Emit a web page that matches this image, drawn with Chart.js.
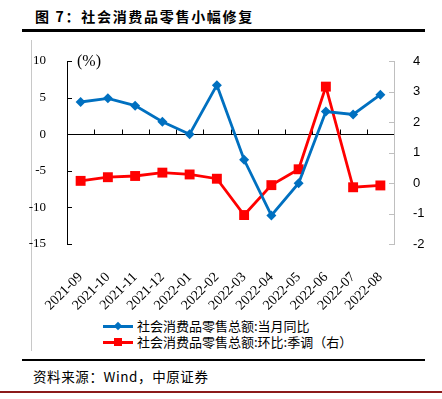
<!DOCTYPE html>
<html>
<head>
<meta charset="utf-8">
<script src="https://cdn.jsdelivr.net/npm/chart.js@4.4.0/dist/chart.umd.min.js"></script>
<style>
  body { margin: 0; background: #fff; }
  #wrap { position: relative; width: 442px; height: 399px; overflow: hidden; background: #fff; }
  #title { position: absolute; left: 35px; top: 6px; font: bold 14px "Noto Sans CJK SC", sans-serif; letter-spacing: 1.7px; color: #000; }
  .rule { position: absolute; background: #000; }
  #vline { position: absolute; left: 31px; top: 40px; width: 1px; height: 311px; background: #c8c8c8; }
  #chartBox { position: absolute; left: 0; top: 0; width: 442px; height: 315px; }
  .leg { position: absolute; left: 103px; height: 16px; font: 13px "Noto Sans CJK SC", sans-serif; color: #000; white-space: nowrap; }
  .leg .ln { position: absolute; left: 0; top: 7px; width: 30px; height: 3px; }
  .leg .mk { position: absolute; }
  .leg span.t { position: absolute; left: 34px; top: -2px; }
  #source { position: absolute; left: 33px; top: 366px; font: 13.5px "Noto Sans CJK SC", sans-serif; letter-spacing: 0.6px; color: #000; }
  #redline { position: absolute; left: 0; top: 391px; width: 442px; height: 2px; background: #8c1a1a; }
</style>
</head>
<body>
<div id="wrap">
  <div id="title">图 7：社会消费品零售小幅修复</div>
  <div class="rule" style="left:22px; top:29px; width:403px; height:3px;"></div>
  <div id="vline"></div>
  <div id="chartBox"><canvas id="retail"></canvas></div>
  <div class="leg" style="top:318px;">
    <div class="ln" style="background:#0070c0;"></div>
    <div class="mk" style="left:12px; top:5px; width:6px; height:6px; background:#0070c0; transform:rotate(45deg);"></div>
    <span class="t">社会消费品零售总额:当月同比</span>
  </div>
  <div class="leg" style="top:334px;">
    <div class="ln" style="background:#ff0000;"></div>
    <div class="mk" style="left:11px; top:4px; width:8px; height:8px; background:#ff0000;"></div>
    <span class="t">社会消费品零售总额:环比:季调（右）</span>
  </div>
  <div class="rule" style="left:22px; top:359px; width:403px; height:2px;"></div>
  <div id="source">资料来源：Wind，中原证券</div>
  <div id="redline"></div>
</div>
<script>
// 月份
const months = ["2021-09", "2021-10", "2021-11", "2021-12", "2022-01", "2022-02",
  "2022-03", "2022-04", "2022-05", "2022-06", "2022-07", "2022-08"];
// 当月同比 (%)，左轴
const yoyValues = [4.4, 4.9, 3.9, 1.7, 0, 6.7, -3.5, -11.1, -6.7, 3.1, 2.7, 5.4];
// 环比:季调 (%)，右轴
const momValues = [0.07, 0.19, 0.23, 0.34, 0.28, 0.14, -1.05, -0.07, 0.45, 3.16, -0.14, -0.08];
// 轴刻度范围
const leftTicks = [-15, -10, -5, 0, 5, 10];
const rightTicks = [-2, -1, 0, 1, 2, 3, 4];

// 画零线、内侧刻度和 (%) 标注
const axisDecor = {
  id: "axisDecor",
  beforeDatasetsDraw(chart) {
    const { ctx, chartArea, scales } = chart;
    const y = scales.y, y1 = scales.y1, x = scales.x;
    ctx.save();
    // 左轴
    ctx.strokeStyle = "#000";
    ctx.lineWidth = 1;
    ctx.beginPath();
    ctx.moveTo(chartArea.left + 0.5, chartArea.top);
    ctx.lineTo(chartArea.left + 0.5, chartArea.bottom);
    leftTicks.forEach(v => {
      const py = Math.round(y.getPixelForValue(v)) + 0.5;
      ctx.moveTo(chartArea.left, py);
      ctx.lineTo(chartArea.left + 5, py);
    });
    ctx.stroke();
    // 右轴
    ctx.strokeStyle = "#bfbfbf";
    ctx.beginPath();
    ctx.moveTo(chartArea.right + 0.5, chartArea.top);
    ctx.lineTo(chartArea.right + 0.5, chartArea.bottom);
    rightTicks.forEach(v => {
      const py = Math.round(y1.getPixelForValue(v)) + 0.5;
      ctx.moveTo(chartArea.right - 5, py);
      ctx.lineTo(chartArea.right + 1, py);
    });
    ctx.stroke();
    // 零线和类目刻度
    const zy = Math.round(y.getPixelForValue(0)) + 0.5;
    ctx.strokeStyle = "#000";
    ctx.beginPath();
    ctx.moveTo(chartArea.left, zy);
    ctx.lineTo(chartArea.right, zy);
    for (let i = 1; i < months.length; i++) {
      const px = Math.round((x.getPixelForValue(i - 1) + x.getPixelForValue(i)) / 2) + 0.5;
      ctx.moveTo(px, zy);
      ctx.lineTo(px, zy - 5);
    }
    ctx.stroke();
    // 单位
    ctx.fillStyle = "#000";
    ctx.font = '16px "Liberation Serif", serif';
    ctx.textBaseline = "middle";
    ctx.fillText("(%)", chartArea.left + 10, chartArea.top + 1);
    ctx.restore();
  },
};

const config = {
  type: "line",
  data: {
    labels: months,
    datasets: [
      {
        label: "社会消费品零售总额:当月同比",
        data: yoyValues,
        yAxisID: "y",
        borderColor: "#0070c0",
        backgroundColor: "#0070c0",
        borderWidth: 2.8,
        pointStyle: "rectRot",
        pointRadius: 5,
        pointBorderWidth: 0,
        tension: 0,
      },
      {
        label: "社会消费品零售总额:环比:季调（右）",
        data: momValues,
        yAxisID: "y1",
        borderColor: "#ff0000",
        backgroundColor: "#ff0000",
        borderWidth: 2.8,
        pointStyle: "rect",
        pointRadius: 7,
        pointBorderWidth: 0,
        tension: 0,
      },
    ],
  },
  options: {
    responsive: false,
    animation: false,
    events: [],
    layout: { padding: { top: 61, left: 0, right: 0, bottom: 0 } },
    plugins: {
      legend: { display: false },
      tooltip: { enabled: false },
    },
    scales: {
      x: {
        offset: true,
        grid: { display: false },
        border: { display: false },
        ticks: {
          color: "#000",
          font: { family: "Liberation Serif", size: 14 },
          maxRotation: 45,
          minRotation: 45,
          padding: 17,
          autoSkip: false,
        },
        afterFit(scale) { scale.height = 71; },
      },
      y: {
        position: "left",
        min: -15,
        max: 10,
        grid: { display: false },
        border: { display: false },
        ticks: {
          stepSize: 5,
          color: "#000",
          font: { family: "Liberation Serif", size: 13 },
          padding: 13,
        },
        afterFit(scale) { scale.width = 67; },
      },
      y1: {
        position: "right",
        min: -2,
        max: 4,
        grid: { display: false },
        border: { display: false },
        ticks: {
          stepSize: 1,
          color: "#000",
          font: { family: "Liberation Sans", size: 13 },
          padding: 11,
        },
        afterFit(scale) { scale.width = 48; },
      },
    },
  },
  plugins: [axisDecor],
};

const canvas = document.getElementById("retail");
canvas.width = 442;
canvas.height = 315;
const retailChart = new Chart(canvas, config);
</script>
</body>
</html>
